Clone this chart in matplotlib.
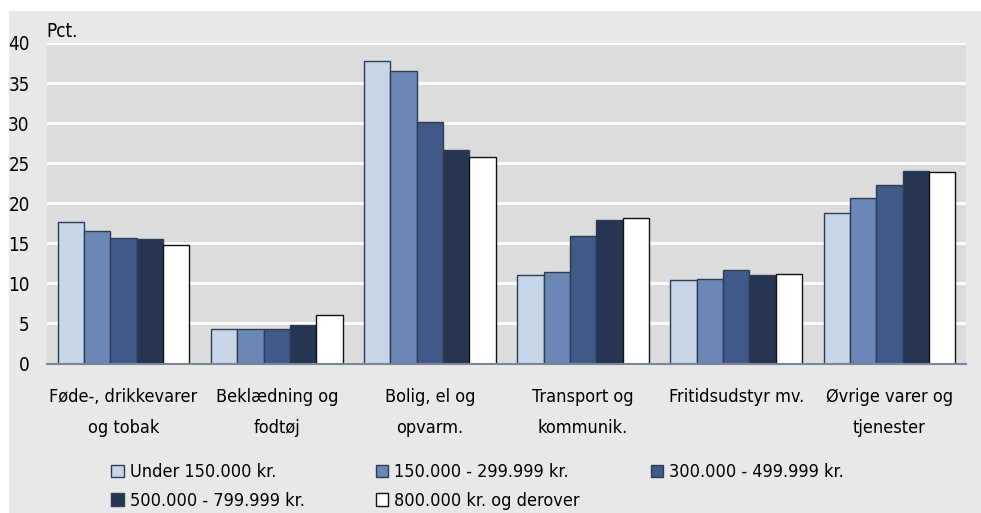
import matplotlib
matplotlib.use("Agg")
import matplotlib.pyplot as plt
import numpy as np
from matplotlib.patches import Rectangle

CATEGORIES = [
    "Føde-, drikkevarer\nog tobak",
    "Beklædning og\nfodtøj",
    "Bolig, el og\nopvarm.",
    "Transport og\nkommunik.",
    "Fritidsudstyr mv.",
    "Øvrige varer og\ntjenester",
]
SERIES = [
    "Under 150.000 kr.",
    "150.000 - 299.999 kr.",
    "300.000 - 499.999 kr.",
    "500.000 - 799.999 kr.",
    "800.000 kr. og derover",
]
under_150 = [17.7, 4.3, 37.8, 11.0, 10.4, 18.8]
from_150 = [16.5, 4.3, 36.5, 11.4, 10.6, 20.7]
from_300 = [15.7, 4.3, 30.2, 15.9, 11.7, 22.3]
from_500 = [15.6, 4.8, 26.7, 17.9, 11.1, 24.0]
from_800 = [14.8, 6.1, 25.8, 18.1, 11.2, 23.9]
VALUES = [under_150, from_150, from_300, from_500, from_800]

COLORS = ["#c6d5e8", "#6b87b5", "#405a87", "#263552", "#ffffff"]
EDGES = ["#2e3b55", "#2e3b55", "#2e3b55", "#2e3b55", "#111111"]
YTICKS = [0, 5, 10, 15, 20, 25, 30, 35, 40]

plt.rcParams["font.family"] = ["DejaVu Sans"]
plt.rcParams["font.stretch"] = "condensed"


def main():
    fig = plt.figure(figsize=(9.81, 5.13), dpi=100, facecolor="white")
    fig.patches.append(Rectangle((9 / 981, 0), 1, 1 - 11 / 513,
                                 transform=fig.transFigure,
                                 facecolor="#e8e8e8", edgecolor="none", zorder=-10))

    ax = fig.add_axes([47 / 981, 1 - 363.5 / 513, (966 - 47) / 981, (363.5 - 43) / 513])
    ax.set_facecolor("#dcdcdc")

    x = np.arange(len(CATEGORIES))
    width = 0.172
    n = len(SERIES)
    for i, (vals, label) in enumerate(zip(VALUES, SERIES)):
        offset = (i - (n - 1) / 2) * width
        ax.bar(x + offset, vals, width, color=COLORS[i], edgecolor=EDGES[i],
               linewidth=1.0, label=label, zorder=3)

    ax.set_xlim(-0.5, len(CATEGORIES) - 0.5)
    ax.set_ylim(0, 40)
    ax.set_yticks(YTICKS)
    ax.yaxis.grid(True, color="white", linewidth=2.2, zorder=1)
    ax.set_axisbelow(True)
    for side in ("top", "right", "left"):
        ax.spines[side].set_visible(False)
    ax.spines["bottom"].set_color("#7a8599")
    ax.spines["bottom"].set_linewidth(1.5)
    ax.spines["bottom"].set_zorder(4)

    ax.tick_params(axis="y", length=0, pad=12.5, labelsize=13.5)
    ax.tick_params(axis="x", length=0, pad=18, labelsize=13)
    ax.set_xticks(x)
    ax.set_xticklabels(CATEGORIES, linespacing=1.9)

    ax.text(-0.001, 1.02, "Pct.", transform=ax.transAxes, fontsize=13.5,
            ha="left", va="baseline")

    handles, labels = ax.get_legend_handles_labels()
    # matplotlib fills legend columns first; reorder so rows read left to right
    order = [0, 3, 1, 4, 2]
    leg = fig.legend([handles[k] for k in order], [labels[k] for k in order],
                     loc="upper left", ncol=3,
                     bbox_to_anchor=(95 / 981, 1 - 447 / 513),
                     frameon=False, fontsize=13, handlelength=0.7,
                     handleheight=0.7, handletextpad=0.35, columnspacing=3.9,
                     labelspacing=0.6)
    for h in leg.legend_handles:
        h.set_linewidth(1.0)

    fig.savefig("out.png", dpi=100, facecolor=fig.get_facecolor())
    plt.close(fig)


if __name__ == "__main__":
    main()
